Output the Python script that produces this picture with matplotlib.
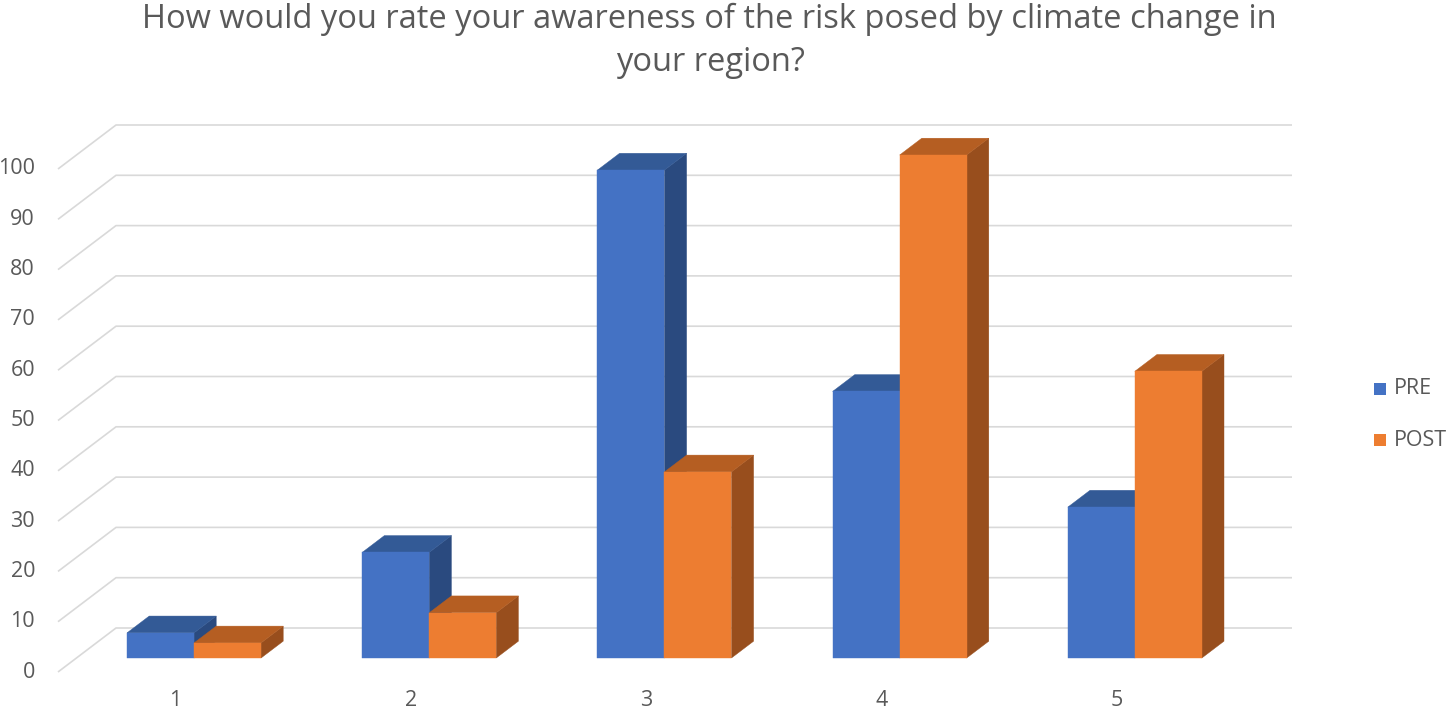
import matplotlib
matplotlib.use("Agg")
import matplotlib.pyplot as plt
from matplotlib.patches import Polygon, Rectangle

# ---- data ----
categories = ["1", "2", "3", "4", "5"]
pre_values = [5, 21, 97, 53, 30]
post_values = [3, 9, 37, 100, 57]
series_names = ["PRE", "POST"]
y_ticks = [0, 10, 20, 30, 40, 50, 60, 70, 80, 90, 100]
title_lines = ["How would you rate your awareness of the risk posed by climate change in",
               "your region?"]

# ---- style / geometry ----
W, H = 1446, 711
FONT = "Open Sans"
TXT = "#595959"
GRID = "#D9D9D9"
LBL_FS = 15.5
front_cols = ["#4472C4", "#ED7D31"]
top_cols = ["#335A96", "#B55E22"]
side_cols = ["#2A4A7F", "#984E1D"]

PX_CAT = 235.2     # pixels per category (front plane)
X0_PX = 58         # front plane left edge pixel
Y0_PX = 672        # front plane zero pixel
PX_VAL = 5.03      # pixels per value unit
DDX = 58 / PX_CAT  # full depth shift in category units
DDY = 44 / PX_VAL  # full depth shift in value units
F0, F1 = 0.318, 0.70
BAR_W = 67 / PX_CAT

fig = plt.figure(figsize=(W / 100, H / 100), dpi=100)
ax = fig.add_axes([0, 0, 1, 1])
ax.axis("off")
x_lo = 0.5 - X0_PX / PX_CAT
ax.set_xlim(x_lo, x_lo + W / PX_CAT)
ax.set_ylim((Y0_PX - H) / PX_VAL, Y0_PX / PX_VAL)


def P(x, v, d):
    return (x + d * DDX, v + d * DDY)


def px2x(px):
    return x_lo + px / PX_CAT


def py2y(py):
    return (Y0_PX - py) / PX_VAL


n = len(categories)
x_left, x_right = 0.5, n + 0.5

# gridlines (floor diagonals + back wall)
for v in y_ticks:
    pts = [P(x_left, v, 0), P(x_left, v, 1), P(x_right, v, 1)]
    ax.plot([p[0] for p in pts], [p[1] for p in pts], color=GRID, lw=1.2,
            zorder=1, solid_capstyle="butt")
    ax.text(px2x(35), v, str(v), ha="right", va="center", fontsize=LBL_FS,
            family=FONT, color=TXT)

# bars
z = 2
for i in range(n):
    xc = i + 1
    for s, vals in enumerate([pre_values, post_values]):
        v = vals[i]
        xl = xc - BAR_W + s * BAR_W
        xr = xl + BAR_W
        front = [P(xl, 0, F0), P(xr, 0, F0), P(xr, v, F0), P(xl, v, F0)]
        top = [P(xl, v, F0), P(xr, v, F0), P(xr, v, F1), P(xl, v, F1)]
        side = [P(xr, 0, F0), P(xr, 0, F1), P(xr, v, F1), P(xr, v, F0)]
        for poly, c in ((side, side_cols[s]), (top, top_cols[s]), (front, front_cols[s])):
            ax.add_patch(Polygon(poly, closed=True, facecolor=c, edgecolor=c,
                                 lw=0.3, zorder=z))
            z += 1
    ax.text(xc, py2y(701), categories[i], ha="center", va="center",
            fontsize=LBL_FS, family=FONT, color=TXT)

# legend
for s, (name, yc) in enumerate(zip(series_names, [389, 440])):
    ax.add_patch(Rectangle((px2x(1374), py2y(yc + 6)), 12 / PX_CAT, 12 / PX_VAL,
                           facecolor=front_cols[s], edgecolor="none", zorder=50))
    ax.text(px2x(1394), py2y(yc), name, ha="left", va="center", fontsize=LBL_FS,
            family=FONT, color=TXT)

# title
t1 = fig.text(709 / W, 1 - 28 / H, title_lines[0], ha="center", va="baseline",
              fontsize=24, family=FONT, color=TXT)
t2 = fig.text(710 / W, 1 - 71 / H, title_lines[1], ha="center", va="baseline",
              fontsize=24, family=FONT, color=TXT)
fig.canvas.draw()
w1 = t1.get_window_extent().width
fs = 24 * 1138 / w1
t1.set_fontsize(fs)
t2.set_fontsize(fs)

fig.savefig("out.png", dpi=100, facecolor="white")
